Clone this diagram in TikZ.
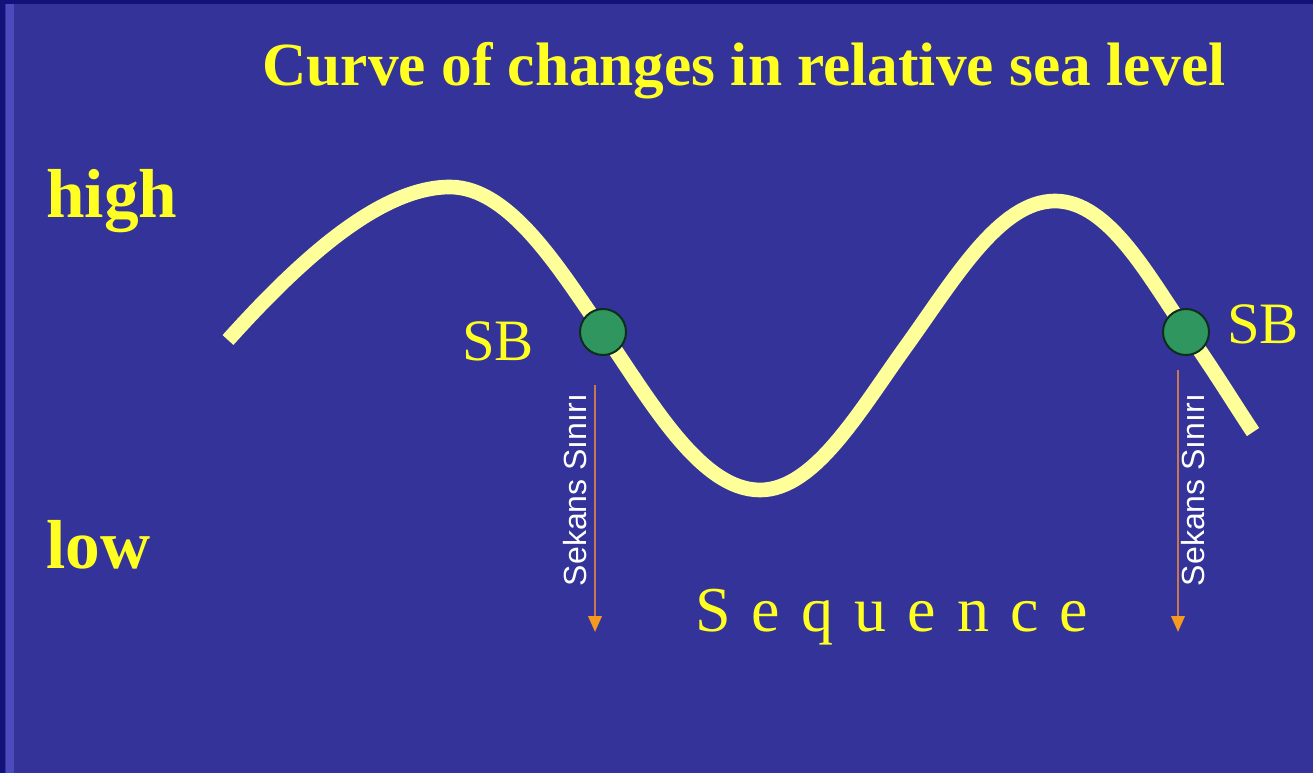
\documentclass[tikz,border=0pt]{standalone}
\usepackage{fontspec}
\setmainfont{Liberation Serif}
\setsansfont{Liberation Sans}
\usetikzlibrary{arrows.meta}
\definecolor{bg}{HTML}{333399}
\definecolor{navy}{HTML}{12127A}
\definecolor{stripe}{HTML}{4B4BBE}
\definecolor{curvey}{HTML}{FFFF99}
\definecolor{txty}{HTML}{FFFF22}
\definecolor{sbgreen}{HTML}{2F9660}
\definecolor{arrline}{HTML}{C8784E}
\definecolor{arrhead}{HTML}{F59A1E}
\begin{document}
\begin{tikzpicture}[x=0.75pt,y=-0.75pt,
  ylabel/.style={text=txty,font=\bfseries\fontsize{52}{52}\selectfont,inner sep=0pt,anchor=base west},
  sblabel/.style={text=txty,font=\fontsize{44}{44}\selectfont,inner sep=0pt,anchor=base west},
  sbdot/.style={circle,fill=sbgreen,draw=black!70!sbgreen,line width=1.5pt,minimum size=34.5pt,inner sep=0pt},
  sekans/.style={text=white,font=\sffamily\fontsize{24}{24}\selectfont,rotate=90,inner sep=0pt},
  sbarrow/.style={draw=arrline,line width=2pt,-{Triangle[color=arrhead,fill=arrhead,length=12pt,width=10pt]}}]
\useasboundingbox (0,0) rectangle (1313,773);
\fill[bg] (0,0) rectangle (1313,773);
\fill[navy] (0,0) rectangle (1313,4);
\fill[navy] (0,0) rectangle (5,773);
\fill[stripe] (6,4) rectangle (14,773);
% title
\node[text=txty,font=\bfseries\fontsize{46}{46}\selectfont,inner sep=0pt,anchor=base] (title) at (744,86) {Curve of changes in relative sea level};
\node[ylabel] (high) at (46,218) {high};
\node[ylabel] (low) at (46,568) {low};
% curve
\draw[curvey,line width=11pt] (228,340) .. controls (300,260) and (380,187) .. (450,187)
  .. controls (510,187) and (560,270) .. (603,332)
  .. controls (650,400) and (700,490) .. (760,490)
  .. controls (815,490) and (860,410) .. (907,345)
  .. controls (955,278) and (1000,201) .. (1055,201)
  .. controls (1110,201) and (1150,280) .. (1187,332)
  .. controls (1215,372) and (1235,405) .. (1253,432);
\node[sbdot] (sb1) at (603,332) {};
\node[sbdot] (sb2) at (1186,332) {};
\node[sblabel] (sbl1) at (462,361) {SB};
\node[sblabel] (sbl2) at (1227,344) {SB};
% arrows
\coordinate (a1s) at (595,385);
\coordinate (a1e) at (595,632);
\coordinate (a2s) at (1178,370);
\coordinate (a2e) at (1178,632);
\draw[sbarrow] (a1s) -- (a1e);
\draw[sbarrow] (a2s) -- (a2e);
\node[sekans] (sk1) at (575,490) {Sekans Sınırı};
\node[sekans] (sk2) at (1193,490) {Sekans Sınırı};
% Sequence
\node[text=txty,font=\fontsize{48}{48}\selectfont\addfontfeature{LetterSpace=33},inner sep=0pt,anchor=base west] (seq) at (695,631) {Sequence};
\end{tikzpicture}
\end{document}
